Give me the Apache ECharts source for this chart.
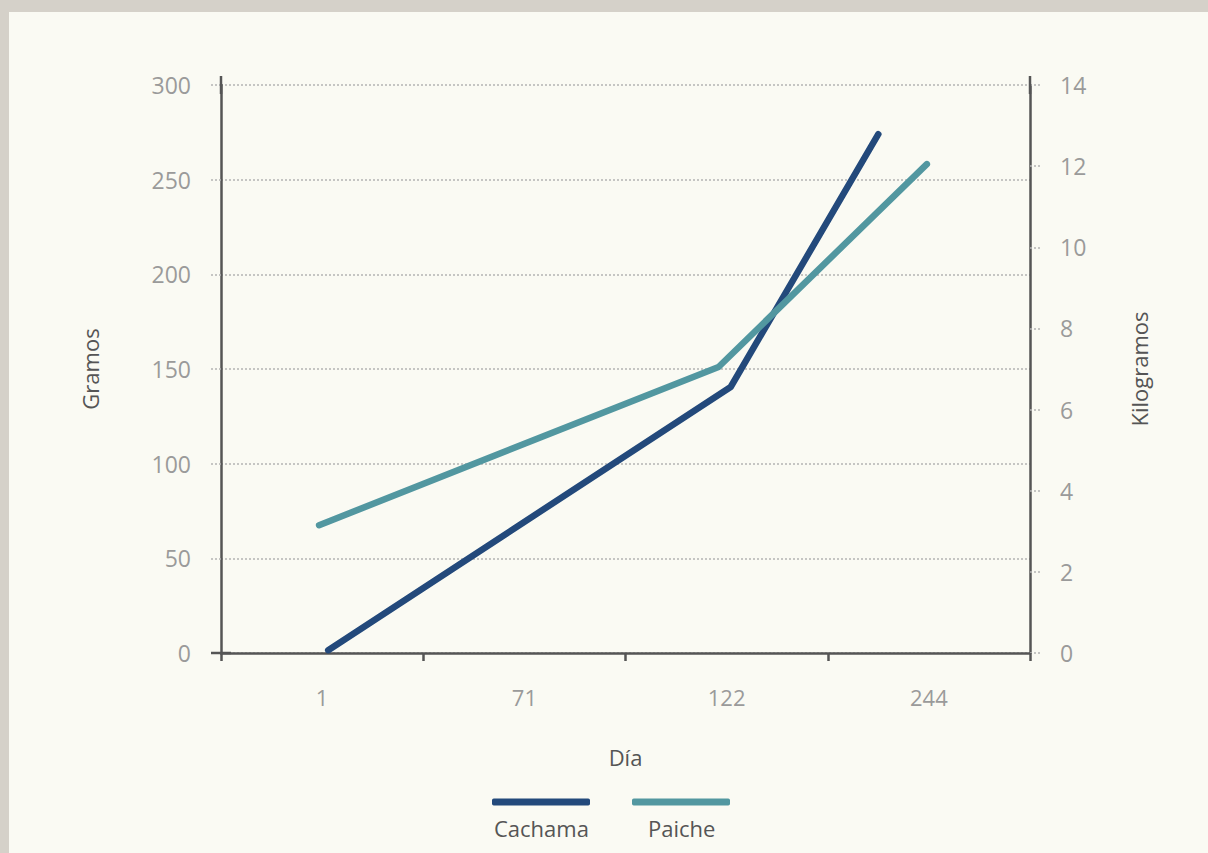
<!DOCTYPE html>
<html>
<head>
<meta charset="utf-8">
<script src="https://cdn.jsdelivr.net/npm/echarts@6/dist/echarts.min.js"></script>
<style>
  html, body { margin: 0; padding: 0; background: #d5d1c9; width: 1208px; height: 853px; overflow: hidden; }
  #chart { position: absolute; left: 9px; top: 12px; width: 1199px; height: 841px; background: #fafaf3; }
</style>
</head>
<body>
<div id="chart"></div>
<script>
// Category labels on the day axis
const days = ['1', '71', '122', '244'];
// Horizontal positions of the points, in category-slot units (0 = left edge, 4 = right edge)
const cachamaPos = [0.53, 2.52, 3.25];
const paichePos = [0.485, 2.46, 3.49];
// Values
const cachamaGramos = [1.5, 140.5, 274];
const paicheKilogramos = [3.15, 7.05, 12.05];

const FONT = '"Open Sans", "Noto Sans", sans-serif';
const gridLine = { color: '#b4b4b4', type: [2, 2], width: 1.6 };
const axisDark = { color: '#555555', width: 2.5 };
const nameStyle = { fontSize: 22, color: '#555555', fontWeight: 500, fontFamily: FONT };

const chart = echarts.init(document.getElementById('chart'), null, { renderer: 'svg' });
chart.setOption({
  backgroundColor: '#fafaf3',
  textStyle: { fontFamily: FONT },
  grid: { left: 212, right: 178, top: 73, bottom: 200 },
  xAxis: [
    {
      type: 'category', data: days, boundaryGap: true,
      name: 'Día', nameLocation: 'middle', nameGap: 93,
      nameTextStyle: nameStyle,
      axisLine: { lineStyle: axisDark, symbol: ['rect', 'none'], symbolSize: [2.5, 20] },
      axisTick: { show: true, length: 8, lineStyle: axisDark },
      axisLabel: { fontSize: 22, color: '#9a9a9a', margin: 33, fontFamily: FONT },
      splitLine: { show: false }
    },
    { type: 'value', min: 0, max: 4, show: false }
  ],
  yAxis: [
    {
      type: 'value', min: 0, max: 300, interval: 50, position: 'left',
      name: 'Gramos', nameLocation: 'middle', nameGap: 120, nameRotate: 90,
      nameTextStyle: nameStyle,
      axisLine: { show: true, lineStyle: axisDark, symbol: ['none', 'rect'], symbolSize: [2.5, 18] },
      axisTick: { show: true, length: 11, lineStyle: gridLine },
      axisLabel: { fontSize: 23, color: '#9a9a9a', margin: 30, fontFamily: FONT },
      splitLine: { show: true, lineStyle: gridLine }
    },
    {
      type: 'value', min: 0, max: 14, interval: 2, position: 'right',
      name: 'Kilogramos', nameLocation: 'middle', nameGap: 98, nameRotate: 90,
      nameTextStyle: nameStyle,
      axisLine: { show: true, lineStyle: axisDark, symbol: ['none', 'rect'], symbolSize: [2.5, 18] },
      axisTick: { show: true, length: 11, lineStyle: gridLine },
      axisLabel: { fontSize: 23, color: '#9a9a9a', margin: 30, fontFamily: FONT },
      splitLine: { show: false }
    }
  ],
  legend: [
    {
      data: ['Cachama'], left: 478, top: 733, icon: 'roundRect',
      itemWidth: 98, itemHeight: 7,
      formatter: n => '\n' + n,
      textStyle: { fontSize: 22, lineHeight: 52, color: '#555555', fontWeight: 500, fontFamily: FONT, padding: [0, 0, 0, -101] }
    },
    {
      data: ['Paiche'], left: 618, top: 733, icon: 'roundRect',
      itemWidth: 98, itemHeight: 7,
      formatter: n => '\n' + n,
      textStyle: { fontSize: 22, lineHeight: 52, color: '#555555', fontWeight: 500, fontFamily: FONT, padding: [0, 0, 0, -87] }
    }
  ],
  series: [
    {
      name: 'Cachama', type: 'line', xAxisIndex: 1, yAxisIndex: 0,
      data: cachamaPos.map((p, i) => [p, cachamaGramos[i]]),
      showSymbol: false, symbol: 'none',
      lineStyle: { color: '#23497b', width: 6.5, cap: 'round', join: 'round' },
      itemStyle: { color: '#23497b' }
    },
    {
      name: 'Paiche', type: 'line', xAxisIndex: 1, yAxisIndex: 1,
      data: paichePos.map((p, i) => [p, paicheKilogramos[i]]),
      showSymbol: false, symbol: 'none',
      lineStyle: { color: '#5297a0', width: 6.5, cap: 'round', join: 'round' },
      itemStyle: { color: '#5297a0' }
    }
  ],
  animation: false
});
</script>
</body>
</html>
